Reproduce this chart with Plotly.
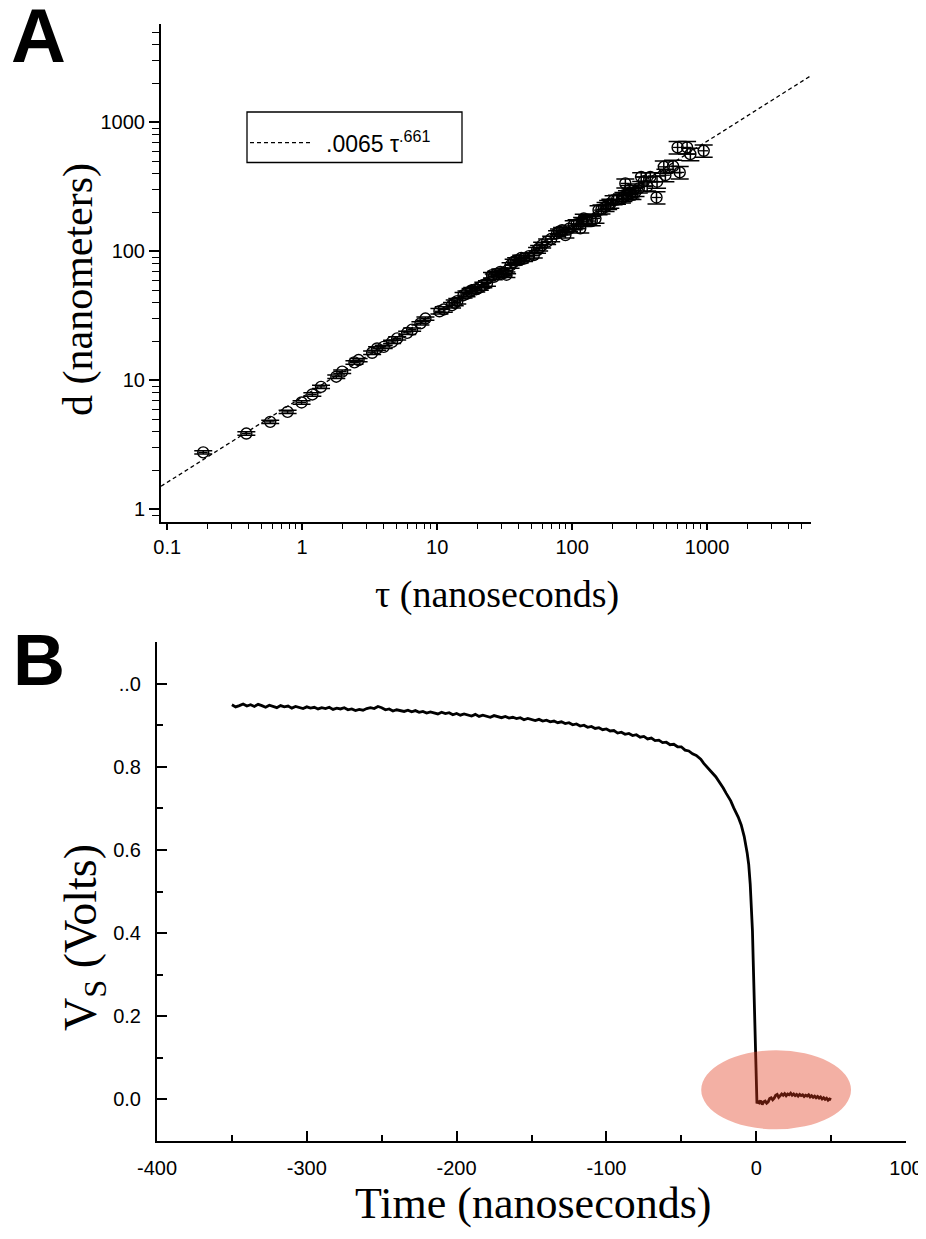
import plotly.graph_objects as go

# ---------------- Panel A data ----------------
tau_ns = [0.185, 0.386, 0.58, 0.78, 0.99, 1.19, 1.38, 1.79, 1.98, 2.44, 2.62, 3.30, 3.59, 4.02, 4.64,
          5.06, 6.0, 6.53, 7.52, 8.19, 10.4, 11.2, 12.9, 13.5, 14.1, 15.7, 16.5, 17.7, 18.2, 19.5,
          20.7, 22.0, 23.4, 25.5, 26.3, 27.5, 29.4, 31.0, 32.6, 33.0, 35.0, 36.9, 38.5, 40.9, 42.0,
          44.0, 48.0, 52.0, 55.0, 57.0, 60.0, 65.3, 70.0, 77.4, 80.0, 84.3, 89.2, 95.0, 102.8, 108.0,
          115.0, 118.6, 122.0, 130.0, 140.0, 149.0, 157.0, 165.0, 177.0, 185.0, 192.0, 203.0, 215.0,
          234.0, 240.0, 248.0, 255.0, 265.0, 271.0, 280.0, 295.0, 312.0, 325.0, 340.0, 360.0, 380.0,
          422.0, 426.0, 478.0, 491.0, 560.0, 605.0, 627.0, 711.0, 752.0, 944.0]
d_nm = [2.77, 3.88, 4.78, 5.71, 6.75, 7.79, 8.92, 10.7, 11.7, 13.8, 14.4, 16.4, 17.7, 18.2, 19.9,
        21.2, 23.4, 24.8, 27.7, 30.2, 34.4, 35.5, 38.3, 40.0, 41.2, 45.8, 47.0, 49.2, 50.1, 51.0,
        52.6, 55.0, 56.5, 65.5, 63.6, 67.0, 69.5, 68.0, 66.0, 70.8, 78.0, 83.0, 85.0, 85.7, 89.0,
        88.0, 92.0, 93.6, 102, 106, 112, 119, 125, 138, 142, 146, 134, 150, 160, 163,
        151, 170, 180, 176, 172, 180, 209, 212, 222, 230, 235, 250, 252,
        258, 265, 337, 273, 300, 282, 275, 290, 308, 378, 350, 320, 378,
        262, 347, 453, 390, 458, 640, 410, 640, 568, 603]
d_err_pct = [3] * 20 + [5] * 38 + [8] * 28 + [11] * 10
tau_err_pct = 8

fit_coef = 7.43      # in plotted units (nm, ns)
fit_exp = 0.661
fit_tau = [0.09, 5900]
legend_label = ".0065 τ<sup>.661</sup>"

x_ticks_A = [0.1, 1, 10, 100, 1000]
x_ticktext_A = ["0.1", "1", "10", "100", "1000"]
y_ticks_A = [1, 10, 100, 1000]
y_ticktext_A = ["1", "10", "100", "1000"]

# ---------------- Panel B data ----------------
time_ns = [-350, -347.5, -345, -342.5, -340, -337.5, -335, -332.5, -330, -327.5,
           -325, -322.5, -320, -317.5, -315, -312.5, -310, -307.5, -305, -302.5,
           -300, -297.5, -295, -292.5, -290, -287.5, -285, -282.5, -280, -277.5,
           -275, -272.5, -270, -267.5, -265, -262.5, -260, -257.5, -255, -252.5,
           -250, -247.5, -245, -242.5, -240, -237.5, -235, -232.5, -230, -227.5,
           -225, -222.5, -220, -217.5, -215, -212.5, -210, -207.5, -205, -202.5,
           -200, -197.5, -195, -192.5, -190, -187.5, -185, -182.5, -180, -177.5,
           -175, -172.5, -170, -167.5, -165, -162.5, -160, -157.5, -155, -152.5,
           -150, -147.5, -145, -142.5, -140, -137.5, -135, -132.5, -130, -127.5,
           -125, -122.5, -120, -117.5, -115, -112.5, -110, -107.5, -105, -102.5,
           -100, -97.5, -95, -92.5, -90, -87.5, -85, -82.5, -80, -77.5,
           -75, -72.5, -70, -67.5, -65, -62.5, -60, -57.5, -55, -52.5,
           -50, -47.5, -45, -42.5, -40, -37, -35, -32, -30, -27, -25, -22, -20, -17, -15, -12,
           -10, -8, -6, -5, -4, -3, -2.5, -2, -1.5, -1, -0.5, 0,
           0.5, 1, 2, 3, 4, 5, 6, 7, 8, 9, 10, 11, 12, 13, 14, 15, 16, 17, 18, 19, 20,
           21, 22, 23, 24, 25, 26, 27, 28, 29, 30, 31, 32, 33, 34, 35, 36, 37, 38, 39, 40,
           41, 42, 43, 44, 45, 46, 47, 48, 49, 50]
vs_volts = [0.949, 0.944, 0.947, 0.951, 0.946, 0.949, 0.945, 0.950, 0.947, 0.943,
            0.948, 0.945, 0.942, 0.947, 0.944, 0.946, 0.941, 0.945, 0.943, 0.940,
            0.944, 0.941, 0.943, 0.939, 0.942, 0.940, 0.943, 0.938, 0.941, 0.939,
            0.942, 0.937, 0.939, 0.935, 0.938, 0.936, 0.940, 0.942, 0.940, 0.945,
            0.942, 0.937, 0.939, 0.934, 0.937, 0.935, 0.933, 0.936, 0.932, 0.935,
            0.931, 0.933, 0.929, 0.932, 0.930, 0.927, 0.931, 0.928, 0.930, 0.925,
            0.928, 0.924, 0.927, 0.925, 0.922, 0.926, 0.921, 0.924, 0.922, 0.919,
            0.923, 0.920, 0.918, 0.921, 0.917, 0.919, 0.916, 0.918, 0.913, 0.916,
            0.914, 0.911, 0.914, 0.910, 0.912, 0.908, 0.910, 0.906, 0.908, 0.904,
            0.906, 0.901, 0.903, 0.898, 0.900, 0.895, 0.897, 0.892, 0.894, 0.889,
            0.891, 0.886, 0.887, 0.881, 0.883, 0.878, 0.880, 0.875, 0.877, 0.871,
            0.873, 0.867, 0.869, 0.863, 0.864, 0.858, 0.859, 0.853, 0.854, 0.848,
            0.848, 0.840, 0.838, 0.831, 0.827, 0.818, 0.808, 0.797, 0.788, 0.776, 0.766, 0.749,
            0.736, 0.718, 0.701, 0.679,
            0.660, 0.632, 0.592, 0.565, 0.518, 0.450, 0.405, 0.335, 0.260, 0.180, 0.085, 0.010,
            -0.010, -0.004, -0.008, -0.003, -0.012, -0.006, -0.004, -0.009, -0.006, 0.002, 0.004,
            -0.001, 0.003, 0.010, 0.012, 0.005, 0.008, 0.013, 0.010, 0.014, 0.009,
            0.013, 0.011, 0.015, 0.010, 0.013, 0.009, 0.012, 0.008, 0.012, 0.009,
            0.011, 0.007, 0.010, 0.008, 0.011, 0.006, 0.009, 0.005, 0.008, 0.004,
            0.007, 0.003, 0.006, 0.001, 0.004, 0.000, 0.003, -0.002, 0.001, -0.001]

x_ticks_B = [-400, -300, -200, -100, 0, 100]
x_ticktext_B = ["-400", "-300", "-200", "-100", "0", "100"]
x_minor_B = [-350, -250, -150, -50, 50]
y_ticks_B = [0.0, 0.2, 0.4, 0.6, 0.8, 1.0]
y_ticktext_B = ["0.0", "0.2", "0.4", "0.6", "0.8", "..0"]
y_minor_B = [0.1, 0.3, 0.5, 0.7, 0.9]
highlight_t = [-36.7, 63.3]
highlight_v = [-0.072, 0.118]

n = min(len(time_ns), len(vs_volts))

# ---------------- Figure ----------------
OFF = 8                      # default page body margin
W, H = 926 - OFF, 1239 - 2 * OFF
SANS = "Arial, Liberation Sans, sans-serif"
SERIF = "Times New Roman, Liberation Serif, serif"


def px_x(p):
    return (p - OFF) / W


def px_y(p):
    return 1 - (p - OFF) / H


fig = go.Figure()

fig.add_trace(go.Scatter(
    x=fit_tau, y=[fit_coef * t ** fit_exp for t in fit_tau], mode="lines",
    line=dict(color="black", width=1.3, dash="4px,3px"), xaxis="x", yaxis="y",
    showlegend=False, hoverinfo="skip"))

fig.add_trace(go.Scatter(
    x=tau_ns, y=d_nm, mode="markers", xaxis="x", yaxis="y", showlegend=False,
    marker=dict(symbol="circle-open", size=11, color="black", line=dict(width=1.4, color="black")),
    error_y=dict(type="data", array=[d * e / 100 for d, e in zip(d_nm, d_err_pct)],
                 color="black", thickness=1.5, width=9),
    error_x=dict(type="percent", value=tau_err_pct, color="black", thickness=1.3, width=0),
))

fig.add_trace(go.Scatter(
    x=time_ns[:n], y=vs_volts[:n], mode="lines", xaxis="x2", yaxis="y2", showlegend=False,
    line=dict(color="black", width=2.8)))

tickfont = dict(family=SANS, size=20, color="black")
common = dict(showline=True, linecolor="black", linewidth=2, showgrid=False, zeroline=False,
              automargin=False, tickcolor="black", tickfont=tickfont)

fig.update_layout(
    template="none",
    width=W, height=H, margin=dict(l=0, r=0, t=0, b=0, pad=0, autoexpand=False),
    paper_bgcolor="white", plot_bgcolor="white", showlegend=False,
    xaxis=dict(type="log", range=[-1.0458, 3.77], domain=[px_x(161), px_x(811)], anchor="y",
               ticks="outside", ticklen=6, tickwidth=1.5,
               tickvals=x_ticks_A, ticktext=x_ticktext_A,
               minor=dict(tickvals=[0.2, 0.3, 0.4, 0.5, 0.6, 0.7, 0.8, 0.9, 2, 3, 4, 5, 6, 7, 8, 9,
                                    20, 30, 40, 50, 60, 70, 80, 90, 200, 300, 400, 500, 600, 700,
                                    800, 900, 2000, 3000, 4000, 5000],
                          ticks="outside", ticklen=5, tickwidth=1.3, tickcolor="black", showgrid=False),
               **common),
    yaxis=dict(type="log", range=[-0.097, 3.763], domain=[px_y(522), px_y(24)], anchor="x",
               ticks="outside", ticklen=10, tickwidth=1.5,
               tickvals=y_ticks_A, ticktext=y_ticktext_A,
               minor=dict(tickvals=[0.9, 2, 3, 4, 5, 6, 7, 8, 9, 20, 30, 40, 50, 60, 70, 80, 90,
                                    200, 300, 400, 500, 600, 700, 800, 900, 2000, 3000, 4000, 5000],
                          ticks="outside", ticklen=7, tickwidth=1.3, tickcolor="black", showgrid=False),
               **common),
    xaxis2=dict(range=[-400, 100], domain=[px_x(157), px_x(906)], anchor="y2",
                ticks="inside", ticklen=10, tickwidth=1.5,
                tickvals=x_ticks_B, ticktext=x_ticktext_B, ticklabelstandoff=8,
                minor=dict(tickvals=x_minor_B, ticks="inside", ticklen=6, tickwidth=1.5,
                           tickcolor="black", showgrid=False),
                **common),
    yaxis2=dict(range=[-0.1, 1.1], domain=[px_y(1141), px_y(642)], anchor="x2",
                ticks="inside", ticklen=10, tickwidth=1.5,
                tickvals=y_ticks_B, ticktext=y_ticktext_B, ticklabelstandoff=10,
                minor=dict(tickvals=y_minor_B, ticks="inside", ticklen=6, tickwidth=1.5,
                           tickcolor="black", showgrid=False),
                **common),
)

shapes = [
    # highlight ellipse in panel B
    dict(type="circle", xref="x2", yref="y2", x0=highlight_t[0], x1=highlight_t[1],
         y0=highlight_v[0], y1=highlight_v[1], fillcolor="rgba(225,57,27,0.4)",
         line=dict(width=0), layer="above"),
    # legend box panel A
    dict(type="rect", xref="paper", yref="paper", x0=px_x(247), x1=px_x(462),
         y0=px_y(162.5), y1=px_y(112), line=dict(color="black", width=1.3),
         fillcolor="white", layer="above"),
    dict(type="line", xref="paper", yref="paper", x0=px_x(250), x1=px_x(313),
         y0=px_y(142.7), y1=px_y(142.7), line=dict(color="black", width=1.3, dash="4px,3px"),
         layer="above"),
]
fig.update_layout(shapes=shapes)

annotations = [
    dict(text=legend_label, x=px_x(324), y=px_y(142), xref="paper", yref="paper",
         xanchor="left", yanchor="middle", showarrow=False,
         font=dict(family=SANS, size=23, color="black")),
    dict(text="<b>A</b>", x=px_x(38), y=px_y(36), xref="paper", yref="paper",
         xanchor="center", yanchor="middle", showarrow=False,
         font=dict(family=SANS, size=76, color="black")),
    dict(text="<b>B</b>", x=px_x(39), y=px_y(660), xref="paper", yref="paper",
         xanchor="center", yanchor="middle", showarrow=False,
         font=dict(family=SANS, size=72, color="black")),
    dict(text="d (nanometers)", x=px_x(78), y=px_y(290), xref="paper", yref="paper",
         xanchor="center", yanchor="middle", showarrow=False, textangle=-90,
         font=dict(family=SERIF, size=42, color="black")),
    dict(text="τ (nanoseconds)", x=px_x(497), y=px_y(594), xref="paper", yref="paper",
         xanchor="center", yanchor="middle", showarrow=False,
         font=dict(family=SERIF, size=38, color="black")),
    dict(text="V<sub>S</sub> (Volts)", x=px_x(84), y=px_y(938), xref="paper", yref="paper",
         xanchor="center", yanchor="middle", showarrow=False, textangle=-90,
         font=dict(family=SERIF, size=46, color="black")),
    dict(text="Time (nanoseconds)", x=px_x(533), y=px_y(1203), xref="paper", yref="paper",
         xanchor="center", yanchor="middle", showarrow=False,
         font=dict(family=SERIF, size=44, color="black")),
]
fig.update_layout(annotations=annotations)

fig.write_html("out.html")
